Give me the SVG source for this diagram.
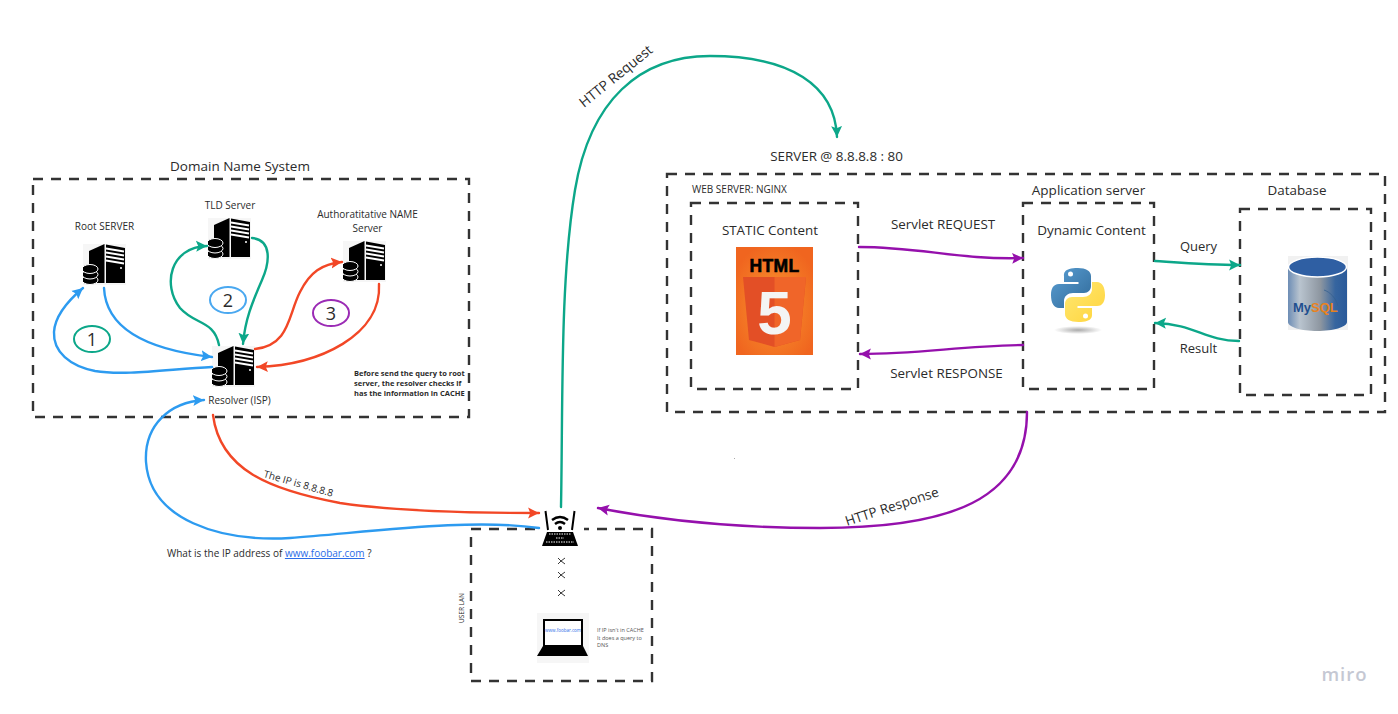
<svg xmlns="http://www.w3.org/2000/svg" width="1398" height="714" viewBox="0 0 1398 714">
<style>
text{font-family:"Open Sans","Liberation Sans",sans-serif;fill:#2b2b2b}
.box{fill:none;stroke:#333;stroke-width:2.400;stroke-dasharray:10 8}
.c{fill:none;stroke-width:2.400;stroke-linecap:round}
.blue{stroke:#2d9bf0}.green{stroke:#0ca789}.red{stroke:#f24726}.purple{stroke:#9510ac}
.m{text-anchor:middle}
</style>
<defs>
<marker id="ab" markerUnits="userSpaceOnUse" markerWidth="12" markerHeight="12" refX="10" refY="5" orient="auto" viewBox="0 0 11 10"><path d="M0 0L10 5L0 10L2 5Z" fill="#2d9bf0"/></marker>
<marker id="ag" markerUnits="userSpaceOnUse" markerWidth="12" markerHeight="12" refX="10" refY="5" orient="auto" viewBox="0 0 11 10"><path d="M0 0L10 5L0 10L2 5Z" fill="#0ca789"/></marker>
<marker id="ar" markerUnits="userSpaceOnUse" markerWidth="12" markerHeight="12" refX="10" refY="5" orient="auto" viewBox="0 0 11 10"><path d="M0 0L10 5L0 10L2 5Z" fill="#f24726"/></marker>
<marker id="ap" markerUnits="userSpaceOnUse" markerWidth="12" markerHeight="12" refX="10" refY="5" orient="auto" viewBox="0 0 11 10"><path d="M0 0L10 5L0 10L2 5Z" fill="#9510ac"/></marker>
<symbol id="server" viewBox="0 0 43 41" width="43" height="41">
<rect width="43" height="41" fill="#f6f6f6"/>
<path d="M6 7L21.500 0V39H6Z" fill="#000"/>
<path d="M23 .5L42 4V39H23Z" fill="#000"/>
<path d="M23 4.500L41 7.500M23 8.500L41 11.500M23 12.500L41 15.500M23 16.500L41 19.500" stroke="#fff" stroke-width="1.800"/>
<circle cx="38" cy="24" r="1" fill="#fff"/>
<g fill="#000" stroke="#fff" stroke-width="1">
<ellipse cx="7" cy="36" rx="8" ry="4.500"/><ellipse cx="7" cy="30.500" rx="8" ry="4.500"/><ellipse cx="7" cy="25" rx="8" ry="4.500"/>
</g>
</symbol>
<linearGradient id="cyl" x1="0" x2="1" y1="0" y2="0"><stop offset="0" stop-color="#6d8db5"/><stop offset=".2" stop-color="#b9c4cf"/><stop offset=".55" stop-color="#8d96a0"/><stop offset=".8" stop-color="#36659f"/><stop offset="1" stop-color="#2a5a9a"/></linearGradient>
<radialGradient id="org" cx=".5" cy=".55" r=".6"><stop offset="0" stop-color="#f8962e"/><stop offset="1" stop-color="#f0651f"/></radialGradient>
<linearGradient id="py1" x1="0" y1="0" x2="1" y2="1"><stop offset="0" stop-color="#5a9fd4"/><stop offset="1" stop-color="#306998"/></linearGradient>
<linearGradient id="py2" x1="0" y1="0" x2="1" y2="1"><stop offset="0" stop-color="#ffe873"/><stop offset="1" stop-color="#ffd43b"/></linearGradient>
<radialGradient id="shadow"><stop offset="0" stop-color="#aaa"/><stop offset="1" stop-color="#fff"/></radialGradient>
</defs>
<rect width="1398" height="714" fill="#fff"/>

<g id="dns-system">
<rect class="box" x="33" y="179" width="436" height="238"/>
<text x="240" y="171" class="m" font-size="13.500">Domain Name System</text>
<text font-size="7.500" font-weight="700"><tspan x="354" y="376">Before send the query to root</tspan><tspan x="354" dy="10">server, the resolver checks if</tspan><tspan x="354" dy="10">has the information in CACHE</tspan></text>
</g>
<g id="root-server"><text x="104.500" y="230" class="m" font-size="10">Root SERVER</text><use href="#server" x="83" y="244"/></g>
<g id="tld-server"><text x="230" y="209" class="m" font-size="10">TLD Server</text><use href="#server" x="208" y="218"/></g>
<g id="auth-server"><text class="m" font-size="10"><tspan x="367.500" y="218">Authoratitative NAME</tspan><tspan x="367.500" y="232">Server</tspan></text><use href="#server" x="343" y="241"/></g>
<g id="resolver"><use href="#server" x="212" y="346"/><text x="239.500" y="404" class="m" font-size="10">Resolver (ISP)</text></g>
<g id="step-1"><ellipse cx="92" cy="339" rx="18" ry="13" fill="none" stroke="#0ca789" stroke-width="2"/><text x="92" y="346" class="m" font-size="18">1</text></g>
<g id="step-2"><ellipse cx="228" cy="300" rx="18" ry="13" fill="none" stroke="#4aa8f0" stroke-width="2"/><text x="228" y="307" class="m" font-size="18">2</text></g>
<g id="step-3"><ellipse cx="331" cy="313" rx="18" ry="13" fill="none" stroke="#9b2bb5" stroke-width="2"/><text x="331" y="320" class="m" font-size="18">3</text></g>

<g id="user-lan">
<rect class="box" x="471" y="529" width="181" height="152"/>
<text transform="translate(464,623) rotate(-90)" font-size="6.500">USER LAN</text>
<text font-size="5.500" style="fill:#555"><tspan x="597" y="632">If IP isn't in CACHE</tspan><tspan x="597" y="639.500">It does a query to</tspan><tspan x="597" y="647">DNS</tspan></text>
</g>
<g id="router">
<rect x="541" y="509" width="43" height="48" fill="#fff"/>
<path d="M545.500 511L548 530M574.500 511L572 530" stroke="#000" stroke-width="2"/>
<path d="M552 520Q560 514 568 520M555 524Q560 520 565 524" fill="none" stroke="#000" stroke-width="2.400"/>
<circle cx="560" cy="528" r="2" fill="#000"/>
<path d="M547 532H573L578 546H542Z" fill="#000"/>
<path d="M549 534H571M556 538H564M546 542H574" stroke="#fff" stroke-width="1" stroke-dasharray="1.500 1"/>
</g>
<g id="wifi-links" fill="none" stroke="#222" stroke-width=".9">
<path d="M558 558L561 561L565 558M558 564L561 561L565 564"/>
<path d="M558 572L561 575L565 572M558 578L561 575L565 578"/>
<path d="M558 590L561 593L565 590M558 596L561 593L565 596"/>
</g>
<g id="laptop">
<rect x="537" y="613" width="52" height="50" fill="#f6f6f6"/>
<rect x="544" y="620" width="38" height="26" fill="#fff" stroke="#000" stroke-width="2"/>
<path d="M543 646H583L588 656H537Z" fill="#000"/>
<text x="563" y="632" class="m" font-size="4.500" style="fill:#2c6ce8">www.foobar.com</text>
</g>

<g id="server-host">
<rect class="box" x="667" y="174" width="718" height="238"/>
<text x="836.500" y="161" class="m" font-size="13.400">SERVER @ 8.8.8.8 : 80</text>
<text x="692" y="193" font-size="10">WEB SERVER: NGINX</text>
</g>
<g id="static-content">
<rect class="box" x="691" y="203" width="167" height="186"/>
<text x="770" y="235" class="m" font-size="13.400">STATIC Content</text>
<rect x="736" y="247" width="77" height="108" fill="url(#org)"/>
<text x="774.500" y="272" class="m" font-size="17.500" font-weight="900" stroke="#000" stroke-width=".6" style="font-family:'Liberation Sans',sans-serif;fill:#000;letter-spacing:.4px">HTML</text>
<path d="M743 277H806L800 340L774.500 347L749 340Z" fill="#e34f26"/>
<path d="M774.500 277H806L800 340L774.500 347Z" fill="#f06529"/>
<text x="774.500" y="334" class="m" font-size="62" font-weight="700" style="font-family:'Liberation Sans',sans-serif;fill:#f4f4f4">5</text>
</g>
<g id="dynamic-content">
<rect class="box" x="1023" y="203" width="131" height="186"/>
<text x="1091.500" y="235" class="m" font-size="13.500">Dynamic Content</text>
<text x="1088.500" y="195" class="m" font-size="13.500">Application server</text>
<ellipse cx="1078" cy="330" rx="24" ry="4" fill="url(#shadow)"/>
<path d="M1078 268C1063 268 1064 274 1064 276V282H1078.500V284H1059C1053 284 1051 289 1051 295C1051 303 1054 308 1059 308H1064V301C1064 296 1068 293 1073 293H1084C1088 293 1091 290 1091 286V276C1091 271 1086 268 1078 268Z" fill="url(#py1)"/>
<path d="M1078.500 322C1093 322 1092 316 1092 314V308H1077.500V306H1097C1103 306 1105 301 1105 295C1105 287 1102 282 1097 282H1092V289C1092 294 1088 297 1083 297H1072C1068 297 1065 300 1065 304V314C1065 319 1070 322 1078.500 322Z" fill="url(#py2)"/>
<circle cx="1070.500" cy="274" r="2.500" fill="#fff"/><circle cx="1085.500" cy="316" r="2.500" fill="#fff"/>
</g>
<g id="database">
<rect class="box" x="1240" y="209" width="131" height="186"/>
<text x="1297" y="195" class="m" font-size="13.400">Database</text>
<rect x="1288" y="256" width="60" height="74" fill="#f1f1f1"/>
<path d="M1288 268V322C1288 327 1301 331 1317 331C1333 331 1347 327 1347 322V268Z" fill="url(#cyl)"/>
<ellipse cx="1317.500" cy="267" rx="29" ry="10" fill="#2f5fa3" stroke="#fff" stroke-width="1.500"/>
<path d="M1324 290C1330 292 1336 298 1338 306" fill="none" stroke="#35608f" stroke-width=".8"/>
<text x="1293" y="312" font-size="13" font-weight="700" style="font-family:'Liberation Sans',sans-serif;fill:#1f4f8f">My<tspan style="fill:#e8821e">SQL</tspan></text>
</g>

<g id="connectors">
<path class="c blue" marker-end="url(#ab)" d="M212 367C170 369 125 376 95 371C70 366 53 352 54 332C55 315 70 299 83 288"/>
<path class="c blue" marker-end="url(#ab)" d="M104 288C106 330 150 350 212 357"/>
<path class="c green" marker-end="url(#ag)" d="M219 345C214 320 195 325 180 308C162 285 170 247 207 246"/>
<path class="c green" marker-end="url(#ag)" d="M252 238C272 240 270 262 262 280C252 303 245 320 243 344"/>
<path class="c red" marker-end="url(#ar)" d="M255 349C290 345 288 315 300 292C310 272 322 264 342 262"/>
<path class="c red" marker-end="url(#ar)" d="M379 284C382 335 320 365 257 367"/>
<path class="c blue" marker-end="url(#ab)" d="M539 528C470 518 370 532 290 538C220 542 150 520 146 462C144 425 170 402 204 400"/>
<path class="c red" marker-end="url(#ar)" d="M213 415C220 470 270 490 340 503C400 512 480 513 539 513"/>
<path class="c green" marker-end="url(#ag)" d="M561 507C563 400 560 280 575 190C590 100 640 56 710 56C790 56 835 85 837 137"/>
<path class="c purple" marker-end="url(#ap)" d="M1027 412C1027 500 950 528 820 528C740 528 660 520 598 508"/>
<path class="c purple" marker-end="url(#ap)" d="M859 247C920 247 960 260 1023 258"/>
<path class="c purple" marker-end="url(#ap)" d="M1023 345C960 346 920 354 860 354"/>
<path class="c green" marker-end="url(#ag)" d="M1155 261C1185 263 1210 265 1240 265"/>
<path class="c green" marker-end="url(#ag)" d="M1239 341C1205 341 1195 324 1155 323"/>
<text transform="translate(584,108) rotate(-39)" font-size="13.800">HTTP Request</text>
<text transform="translate(847,526) rotate(-18)" font-size="13.500">HTTP Response</text>
<text transform="translate(263,477) rotate(16)" font-size="10">The IP is 8.8.8.8</text>
<text x="167" y="557" font-size="10">What is the IP address of <tspan style="fill:#2c6ce8" text-decoration="underline">www.foobar.com</tspan> ?</text>
<text x="943" y="229" class="m" font-size="13.400">Servlet REQUEST</text>
<text x="946.500" y="378" class="m" font-size="13.400">Servlet RESPONSE</text>
<text x="1198.500" y="251" class="m" font-size="13">Query</text>
<text x="1198.500" y="353" class="m" font-size="13">Result</text>
</g>
<rect x="734" y="458" width="1" height="1" fill="#aaa"/>
<text x="1344.500" y="681" class="m" font-size="18.500" font-weight="600" style="fill:#c5c8d3;letter-spacing:1px">miro</text>
</svg>
